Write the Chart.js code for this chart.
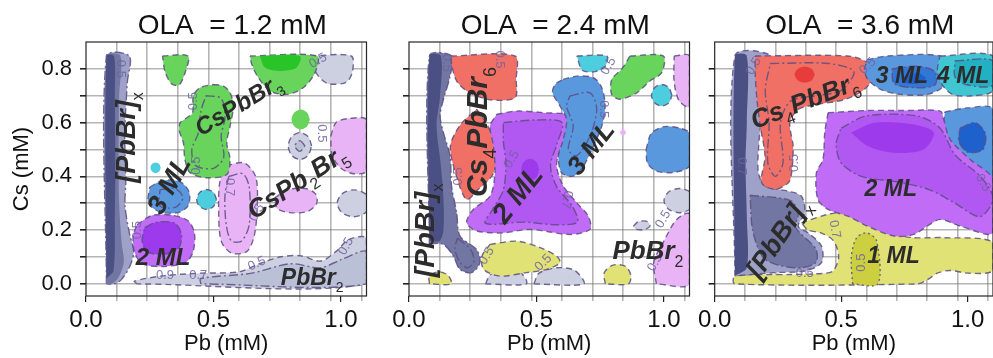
<!DOCTYPE html>
<html>
<head>
<meta charset="utf-8">
<title>Phase maps vs OLA</title>
<script src="https://cdn.jsdelivr.net/npm/chart.js@4.4.1/dist/chart.umd.min.js"></script>
<style>
  body { margin: 0; width: 993px; height: 358px; overflow: hidden; background: #fff; position: relative; }
  canvas { position: absolute; top: 0; }
</style>
</head>
<body>
<canvas id="ola12" width="372" height="358" style="left:0px"></canvas>
<canvas id="ola24" width="322" height="358" style="left:372px"></canvas>
<canvas id="ola36" width="300" height="358" style="left:694px"></canvas>
<script>
const FONT = "'Liberation Sans', Arial, sans-serif";

// axes: labelled Pb ticks, Pb sampling grid, Cs ticks
const pbTicks = [0, 0.5, 1.0];
const pbSamples = [0.12, 0.24, 0.36, 0.48, 0.6, 0.72, 0.84, 0.96, 1.08];
const csTicks = [0, 0.1, 0.2, 0.3, 0.4, 0.5, 0.6, 0.7, 0.8];
const csLabelled = [0, 0.2, 0.4, 0.6, 0.8];

// ---- OLA = 1.2 mM : contour outlines, [Pb, Cs] ----
const ola12PbBrxPale = [[0.08,0.0],[0.08,0.848],[0.17,0.848],[0.162,0.75],[0.152,0.56],[0.156,0.38],[0.153,0.29],[0.17,0.19],[0.187,0.12],[0.172,0.066],[0.138,0.015],[0.11,0.0]];
const ola12PbBrxMid = [[0.08,0.0],[0.08,0.848],[0.135,0.848],[0.13,0.70],[0.128,0.50],[0.13,0.30],[0.14,0.15],[0.148,0.08],[0.125,0.02],[0.10,0.0]];
const ola12PbBrxCore = [[0.08,0.02],[0.08,0.848],[0.11,0.848],[0.113,0.70],[0.115,0.45],[0.113,0.25],[0.108,0.05]];
const ola12PbBr2Band = [[0.20,0.0],[0.19,0.01],[0.30,0.03],[0.45,0.04],[0.60,0.045],[0.68,0.075],[0.76,0.10],[0.84,0.105],[0.92,0.085],[0.98,0.12],[1.03,0.165],[1.10,0.17],[1.10,0.0]];
const ola12PbBr2Core = [[0.45,0.0],[0.45,0.02],[0.65,0.04],[0.80,0.075],[0.92,0.06],[1.0,0.09],[1.10,0.12],[1.10,0.0]];
const ola12GreyCorner = [[0.88,0.848],[1.04,0.848],[1.045,0.79],[1.02,0.75],[0.95,0.745],[0.91,0.775],[0.885,0.82]];
const ola12GreyRing = [[0.885,0.513],[0.871,0.548],[0.839,0.563],[0.807,0.548],[0.793,0.513],[0.807,0.478],[0.839,0.463],[0.871,0.478]];
const ola12GreyRingCore = [[0.859,0.513],[0.839,0.533],[0.819,0.513],[0.839,0.493]];
const ola12GreyEdge = [[1.115,0.30],[1.096,0.335],[1.05,0.35],[1.004,0.335],[0.985,0.30],[1.004,0.265],[1.05,0.25],[1.096,0.265]];
const ola12LilacTall = [[0.55,0.44],[0.62,0.45],[0.665,0.40],[0.672,0.30],[0.66,0.18],[0.63,0.12],[0.57,0.115],[0.53,0.16],[0.52,0.28],[0.525,0.38]];
const ola12LilacTallCore = [[0.56,0.40],[0.615,0.41],[0.64,0.36],[0.64,0.22],[0.61,0.16],[0.57,0.16],[0.55,0.22],[0.545,0.33]];
const ola12LilacFlat = [[0.74,0.32],[0.79,0.35],[0.86,0.355],[0.90,0.335],[0.905,0.30],[0.87,0.27],[0.80,0.265],[0.75,0.28]];
const ola12LilacEdge = [[0.96,0.55],[0.98,0.60],[1.03,0.615],[1.10,0.61],[1.10,0.42],[1.05,0.41],[1.0,0.43],[0.965,0.48]];
const ola12GreenCap = [[0.30,0.848],[0.40,0.848],[0.39,0.79],[0.365,0.74],[0.335,0.745],[0.31,0.79]];
const ola12GreenBody = [[0.499,0.742],[0.539,0.736],[0.565,0.711],[0.578,0.662],[0.565,0.587],[0.552,0.525],[0.565,0.463],[0.552,0.407],[0.473,0.395],[0.408,0.414],[0.388,0.463],[0.382,0.525],[0.366,0.569],[0.369,0.599],[0.395,0.618],[0.418,0.636],[0.421,0.70],[0.447,0.73]];
const ola12GreenBodyCore = [[0.47,0.70],[0.53,0.69],[0.545,0.62],[0.53,0.55],[0.54,0.47],[0.50,0.43],[0.43,0.44],[0.415,0.50],[0.44,0.56],[0.45,0.64]];
const ola12GreenTop = [[0.643,0.848],[0.905,0.848],[0.898,0.786],[0.852,0.73],[0.787,0.705],[0.722,0.718],[0.676,0.767],[0.65,0.817]];
const ola12GreenTopCore = [[0.682,0.848],[0.839,0.848],[0.826,0.805],[0.761,0.792],[0.702,0.805]];
const ola12GreenDot = [[0.878,0.612],[0.867,0.638],[0.842,0.649],[0.817,0.638],[0.806,0.612],[0.817,0.586],[0.842,0.575],[0.867,0.586]];
const ola12Ml2 = [[0.20,0.22],[0.26,0.255],[0.34,0.255],[0.40,0.235],[0.425,0.19],[0.42,0.12],[0.39,0.08],[0.30,0.065],[0.22,0.075],[0.19,0.12],[0.185,0.18]];
const ola12Ml2Core = [[0.23,0.21],[0.28,0.23],[0.35,0.225],[0.375,0.18],[0.36,0.13],[0.30,0.11],[0.24,0.12],[0.22,0.16]];
const ola12Ml3 = [[0.25,0.36],[0.30,0.385],[0.37,0.38],[0.405,0.34],[0.40,0.29],[0.36,0.265],[0.29,0.268],[0.245,0.30]];
const ola12Ml3Core = [[0.29,0.35],[0.35,0.355],[0.38,0.32],[0.35,0.285],[0.29,0.29]];
const ola12CyanSpeck = [[0.293,0.432],[0.287,0.446],[0.273,0.452],[0.259,0.446],[0.253,0.432],[0.259,0.418],[0.273,0.412],[0.287,0.418]];
const ola12CyanDot = [[0.512,0.314],[0.500,0.340],[0.473,0.351],[0.446,0.340],[0.434,0.314],[0.446,0.288],[0.473,0.277],[0.500,0.288]];

// ---- OLA = 2.4 mM ----
const ola24PbBrxPale = [[0.08,0.15],[0.08,0.848],[0.167,0.848],[0.161,0.773],[0.135,0.686],[0.122,0.624],[0.135,0.563],[0.161,0.476],[0.167,0.364],[0.187,0.265],[0.20,0.178],[0.265,0.128],[0.278,0.079],[0.246,0.042],[0.20,0.054],[0.174,0.103],[0.135,0.147]];
const ola24PbBrxLump = [[0.19,0.17],[0.24,0.13],[0.255,0.085],[0.23,0.06],[0.20,0.08],[0.18,0.13]];
const ola24PbBrxCore = [[0.08,0.16],[0.08,0.848],[0.125,0.848],[0.122,0.70],[0.108,0.59],[0.125,0.44],[0.135,0.32],[0.135,0.20],[0.12,0.16]];
const ola24Cs4Top = [[0.165,0.848],[0.415,0.848],[0.42,0.76],[0.416,0.693],[0.32,0.685],[0.24,0.71],[0.19,0.75],[0.168,0.81]];
const ola24Cs4Diamond = [[0.265,0.65],[0.31,0.585],[0.345,0.50],[0.33,0.41],[0.27,0.35],[0.226,0.314],[0.19,0.39],[0.162,0.51],[0.20,0.59]];
const ola24Ml2 = [[0.344,0.631],[0.422,0.643],[0.527,0.637],[0.631,0.625],[0.625,0.562],[0.592,0.5],[0.579,0.438],[0.605,0.364],[0.658,0.302],[0.703,0.252],[0.71,0.203],[0.631,0.184],[0.475,0.203],[0.37,0.19],[0.265,0.197],[0.226,0.228],[0.252,0.277],[0.318,0.327],[0.337,0.413],[0.331,0.513],[0.318,0.587]];
const ola24Ml2Inner = [[0.37,0.60],[0.50,0.61],[0.60,0.60],[0.58,0.52],[0.555,0.44],[0.58,0.36],[0.64,0.29],[0.66,0.23],[0.58,0.22],[0.45,0.23],[0.30,0.225],[0.33,0.28],[0.37,0.35],[0.38,0.45],[0.37,0.53]];
const ola24Ml2Core = [[0.51,0.426],[0.50,0.454],[0.475,0.466],[0.45,0.454],[0.44,0.426],[0.45,0.398],[0.475,0.386],[0.50,0.398]];
const ola24Ml1 = [[0.318,0.147],[0.422,0.159],[0.514,0.135],[0.579,0.103],[0.592,0.079],[0.54,0.054],[0.46,0.042],[0.357,0.029],[0.293,0.054],[0.286,0.103]];
const ola24Ml1Corner = [[0.08,0.0],[0.08,0.03],[0.12,0.045],[0.155,0.03],[0.165,0.0]];
const ola24Ml1Spot = [[0.77,0.0],[0.765,0.04],[0.80,0.07],[0.85,0.065],[0.87,0.03],[0.86,0.0]];
const ola24GreyLeft = [[0.30,0.0],[0.32,0.035],[0.38,0.05],[0.44,0.04],[0.46,0.0]];
const ola24GreyRight = [[0.49,0.0],[0.51,0.04],[0.58,0.06],[0.65,0.05],[0.685,0.0]];
const ola24GreySpeck = [[0.88,0.215],[0.90,0.232],[0.935,0.232],[0.945,0.215],[0.925,0.203],[0.89,0.203]];
const ola24LilacCorner = [[0.97,0.0],[0.96,0.08],[1.0,0.16],[1.05,0.24],[1.10,0.26],[1.10,0.0]];
const ola24GreyEdge = [[1.12,0.31],[1.102,0.342],[1.06,0.355],[1.018,0.342],[1.0,0.31],[1.018,0.278],[1.06,0.265],[1.102,0.278]];
const ola24LilacTop = [[1.04,0.848],[1.10,0.848],[1.10,0.66],[1.06,0.68],[1.04,0.75]];
const ola24LilacSpeck = [[0.852,0.563],[0.84,0.576],[0.828,0.563],[0.84,0.55]];
const ola24Ml3 = [[0.605,0.761],[0.658,0.773],[0.723,0.767],[0.756,0.73],[0.769,0.662],[0.756,0.587],[0.723,0.513],[0.684,0.438],[0.644,0.401],[0.599,0.413],[0.586,0.475],[0.605,0.537],[0.618,0.612],[0.592,0.662],[0.563,0.711],[0.573,0.742]];
const ola24Ml3Core = [[0.631,0.699],[0.71,0.711],[0.736,0.65],[0.71,0.551],[0.658,0.477],[0.625,0.5],[0.644,0.587],[0.618,0.662]];
const ola24CyanTop = [[0.658,0.848],[0.775,0.848],[0.77,0.81],[0.73,0.79],[0.68,0.795]];
const ola24CyanDot = [[1.031,0.702],[1.019,0.730],[0.991,0.742],[0.963,0.730],[0.951,0.702],[0.963,0.674],[0.991,0.662],[1.019,0.674]];
const ola24Green = [[0.867,0.848],[0.997,0.848],[0.991,0.786],[0.945,0.755],[0.893,0.711],[0.827,0.687],[0.795,0.705],[0.795,0.761],[0.834,0.799]];
const ola24BlueEdge = [[0.93,0.50],[0.95,0.56],[1.0,0.585],[1.06,0.58],[1.10,0.56],[1.10,0.44],[1.04,0.415],[0.97,0.42],[0.935,0.45]];

// ---- OLA = 3.6 mM ----
const ola36PbBrxPale = [[0.08,0.03],[0.08,0.848],[0.225,0.848],[0.212,0.749],[0.186,0.624],[0.173,0.5],[0.173,0.413],[0.199,0.364],[0.291,0.345],[0.343,0.326],[0.356,0.265],[0.33,0.215],[0.369,0.19],[0.422,0.141],[0.422,0.079],[0.356,0.048],[0.239,0.042]];
const ola36PbBrxLump = [[0.14,0.33],[0.30,0.31],[0.33,0.26],[0.32,0.21],[0.40,0.13],[0.40,0.08],[0.34,0.06],[0.25,0.07],[0.19,0.10],[0.15,0.2]];
const ola36PbBrxCore = [[0.08,0.03],[0.08,0.848],[0.127,0.848],[0.127,0.60],[0.122,0.45],[0.127,0.25],[0.127,0.06]];
const ola36Ml1 = [[0.343,0.227],[0.448,0.259],[0.526,0.265],[0.605,0.227],[0.683,0.19],[0.788,0.172],[0.905,0.172],[1.10,0.155],[1.10,0.05],[1.0,0.04],[0.93,0.05],[0.88,0.04],[0.84,0.015],[0.80,0.0],[0.08,0.0],[0.08,0.03],[0.30,0.035],[0.44,0.04],[0.47,0.05],[0.49,0.10],[0.47,0.16],[0.42,0.19],[0.37,0.20]];
const ola36Ml1Core = [[0.545,0.0],[0.54,0.10],[0.56,0.17],[0.60,0.19],[0.64,0.16],[0.645,0.0]];
const ola36Cs4 = [[0.16,0.848],[0.526,0.848],[0.605,0.823],[0.631,0.779],[0.592,0.724],[0.513,0.686],[0.408,0.668],[0.33,0.649],[0.297,0.6],[0.31,0.513],[0.304,0.413],[0.291,0.376],[0.239,0.352],[0.186,0.376],[0.199,0.475],[0.18,0.587],[0.167,0.686],[0.16,0.786]];
const ola36Cs4Inner = [[0.22,0.82],[0.45,0.82],[0.55,0.79],[0.50,0.72],[0.40,0.70],[0.30,0.68],[0.26,0.60],[0.27,0.45],[0.24,0.40],[0.21,0.45],[0.215,0.60],[0.20,0.72]];
const ola36Cs4Core = [[0.396,0.779],[0.384,0.8],[0.356,0.809],[0.328,0.8],[0.316,0.779],[0.328,0.758],[0.356,0.749],[0.384,0.758]];
const ola36Ml3 = [[0.605,0.835],[0.683,0.848],[0.892,0.848],[0.925,0.798],[0.905,0.736],[0.84,0.705],[0.735,0.705],[0.657,0.723],[0.605,0.761],[0.592,0.798]];
const ola36Ml3Inner = [[0.70,0.80],[0.80,0.81],[0.87,0.79],[0.87,0.74],[0.79,0.73],[0.71,0.745]];
const ola36Ml3Core = [[0.74,0.77],[0.80,0.785],[0.835,0.765],[0.80,0.745],[0.745,0.75]];
const ola36Ml4 = [[0.89,0.848],[1.10,0.848],[1.10,0.72],[1.02,0.70],[0.94,0.705],[0.90,0.74],[0.88,0.79]];
const ola36Ml4Core = [[0.95,0.83],[1.10,0.83],[1.10,0.74],[1.0,0.74],[0.95,0.77]];
const ola36BlueSide = [[0.91,0.64],[1.0,0.655],[1.10,0.65],[1.10,0.40],[1.04,0.40],[0.97,0.44],[0.925,0.52],[0.905,0.59]];
const ola36BlueSideCore = [[0.97,0.58],[1.03,0.60],[1.07,0.56],[1.06,0.50],[1.0,0.49],[0.965,0.53]];
const ola36Ml2 = [[0.448,0.637],[0.60,0.645],[0.75,0.645],[0.892,0.643],[0.905,0.612],[0.931,0.537],[1.01,0.463],[1.10,0.389],[1.10,0.19],[0.971,0.215],[0.892,0.24],[0.84,0.215],[0.787,0.184],[0.709,0.178],[0.604,0.215],[0.526,0.252],[0.448,0.277],[0.408,0.314],[0.402,0.413],[0.428,0.463],[0.435,0.563]];
const ola36Ml2Inner = [[0.50,0.58],[0.60,0.625],[0.80,0.625],[0.89,0.58],[0.95,0.48],[1.05,0.40],[1.10,0.32],[1.05,0.25],[0.95,0.30],[0.85,0.35],[0.72,0.38],[0.58,0.40],[0.50,0.45],[0.48,0.52]];
const ola36Ml2Core = [[0.539,0.563],[0.631,0.60],[0.787,0.593],[0.866,0.563],[0.826,0.5],[0.709,0.488],[0.604,0.513]];

// phase names: [text, Pb, Cs, rotation, font px]; "_" marks a subscript character
const ola12Tags = [['[PbBr]_x', 0.153, 0.545, -90, 27], ['CsPbBr_3', 0.595, 0.668, -31, 24], ['3 ML', 0.322, 0.37, -61, 27], ['2 ML', 0.302, 0.102, 0, 24], ['CsPb_2Br_5', 0.826, 0.382, -33, 26], ['PbBr_2', 0.887, 0.028, 0, 23]];
const ola24Tags = [['Cs_4PbBr_6', 0.265, 0.565, -90, 30], ['2 ML', 0.422, 0.335, -52, 28], ['3 ML', 0.71, 0.507, -52, 26], ['[PbBr]_x', 0.06, 0.20, -90, 28], ['PbBr_2', 0.937, 0.128, 0, 26]];
const ola36Tags = [['Cs_4PbBr_6', 0.354, 0.683, -21, 26], ['3 ML', 0.74, 0.778, 0, 23], ['4 ML', 0.982, 0.778, 0, 23], ['2 ML', 0.696, 0.359, 0, 23], ['1 ML', 0.707, 0.11, 0, 23], ['[PbBr]_x', 0.245, 0.173, -56, 27]];

// contour level labels: [text, Pb, Cs, rotation]
const ola12Levels = [['0.5', 0.135, 0.80, 90], ['0.5', 0.42, 0.68, -90], ['0.5', 0.434, 0.44, -90], ['0.7', 0.565, 0.36, 90], ['0.5', 0.67, 0.265, -60], ['0.5', 0.20, 0.20, -90], ['0.5', 0.67, 0.075, -25], ['0.9', 0.31, 0.03, 0], ['0.7', 0.44, 0.032, 0], ['0.5', 1.02, 0.14, -60], ['0.5', 0.925, 0.56, 90], ['0.5', 0.91, 0.83, -30]];
const ola24Levels = [['0.5', 0.148, 0.823, 90], ['0.5', 0.357, 0.835, 90], ['0.5', 0.403, 0.463, -60], ['0.5', 0.193, 0.40, -90], ['0.5', 0.782, 0.81, -60], ['0.5', 0.762, 0.65, 90], ['0.7', 0.618, 0.314, 100], ['0.5', 0.305, 0.104, -60], ['0.5', 0.527, 0.079, -45], ['0.5', 0.965, 0.079, -60], ['0.5', 0.997, 0.24, -60]];
const ola36Levels = [['0.5', 0.154, 0.81, -60], ['0.7', 0.108, 0.438, 90], ['0.5', 0.317, 0.45, -90], ['0.5', 0.605, 0.81, -45], ['0.5', 0.356, 0.04, 0], ['0.7', 0.474, 0.203, 80], ['0.5', 0.578, 0.079, -90], ['0.5', 1.06, 0.376, 60]];

const tint = {
  slateDeep: 'rgb(74,80,132)', slate: 'rgb(114,118,162)', slatePale: 'rgb(158,162,200)',
  grey: 'rgb(204,208,224)', greyDeep: 'rgb(186,192,214)', lilac: 'rgb(232,180,246)',
  green: 'rgb(104,212,92)', greenDeep: 'rgb(40,196,40)',
  purple: 'rgb(192,108,246)', purpleMid: 'rgb(178,88,242)', purpleDeep: 'rgb(156,58,236)',
  blue: 'rgb(90,152,222)', blueDeep: 'rgb(50,118,214)', blueDark: 'rgb(30,96,204)',
  cyan: 'rgb(76,206,222)', teal: 'rgb(64,198,208)', tealDeep: 'rgb(34,176,194)',
  red: 'rgb(240,112,102)', redDeep: 'rgb(232,60,60)',
  yellow: 'rgb(224,226,118)', yellowDeep: 'rgb(204,208,64)'
};

// draw order: first entry lowest
const ola12Layers = [
  [ola12PbBrxPale, tint.slatePale, 'dashdot'], [ola12PbBrxMid, tint.slate, null], [ola12PbBrxCore, tint.slateDeep, null],
  [ola12PbBr2Band, tint.grey, 'dash'], [ola12PbBr2Core, tint.greyDeep, 'dashdot'],
  [ola12GreyCorner, tint.grey, 'dash'], [ola12GreyRing, tint.grey, 'dash'], [ola12GreyRingCore, tint.greyDeep, 'dashdot'], [ola12GreyEdge, tint.grey, 'dash'],
  [ola12LilacTall, tint.lilac, 'dash'], [ola12LilacTallCore, tint.lilac, 'dashdot'], [ola12LilacFlat, tint.lilac, 'dash'], [ola12LilacEdge, tint.lilac, 'dash'],
  [ola12GreenCap, tint.green, 'dash'], [ola12GreenBody, tint.green, 'dash'], [ola12GreenBodyCore, tint.green, 'dashdot'],
  [ola12GreenTop, tint.green, 'dash'], [ola12GreenTopCore, tint.greenDeep, null], [ola12GreenDot, tint.green, null],
  [ola12Ml2, tint.purple, 'dash'], [ola12Ml2Core, tint.purpleDeep, 'dashdot'],
  [ola12Ml3, tint.blue, 'dash'], [ola12Ml3Core, tint.blue, 'dashdot'],
  [ola12CyanSpeck, tint.cyan, null], [ola12CyanDot, tint.cyan, 'dash']
];
const ola24Layers = [
  [ola24PbBrxPale, tint.slate, 'dashdot'], [ola24PbBrxLump, tint.slate, 'dashdot'], [ola24PbBrxCore, tint.slateDeep, null],
  [ola24GreyLeft, tint.grey, 'dash'], [ola24GreyRight, tint.grey, 'dash'], [ola24GreySpeck, tint.grey, 'dash'],
  [ola24LilacCorner, tint.lilac, 'dash'], [ola24GreyEdge, tint.grey, 'dash'], [ola24LilacTop, tint.lilac, 'dash'], [ola24LilacSpeck, tint.lilac, null],
  [ola24Ml1, tint.yellow, 'dash'], [ola24Ml1Corner, tint.yellow, 'dash'], [ola24Ml1Spot, tint.yellow, 'dash'],
  [ola24Cs4Top, tint.red, 'dash'], [ola24Cs4Diamond, tint.red, 'dash'],
  [ola24Ml2, tint.purple, 'dash'], [ola24Ml2Inner, tint.purpleMid, 'dashdot'], [ola24Ml2Core, tint.purpleDeep, null],
  [ola24Ml3, tint.blue, 'dash'], [ola24Ml3Core, tint.blue, 'dashdot'],
  [ola24CyanTop, tint.cyan, 'dash'], [ola24CyanDot, tint.cyan, 'dash'], [ola24Green, tint.green, 'dash'], [ola24BlueEdge, tint.blue, 'dash']
];
const ola36Layers = [
  [ola36Ml1, tint.yellow, 'dash'], [ola36Ml1Core, tint.yellowDeep, 'dot'],
  [ola36PbBrxPale, tint.slatePale, 'dash'], [ola36PbBrxLump, tint.slate, 'dashdot'], [ola36PbBrxCore, tint.slateDeep, null],
  [ola36Cs4, tint.red, 'dash'], [ola36Cs4Inner, tint.red, 'dashdot'], [ola36Cs4Core, tint.redDeep, null],
  [ola36Ml3, tint.blue, 'dash'], [ola36Ml3Inner, tint.blueDeep, 'dashdot'], [ola36Ml3Core, tint.blueDark, null],
  [ola36Ml4, tint.teal, 'dash'], [ola36Ml4Core, tint.tealDeep, 'dashdot'],
  [ola36BlueSide, tint.blue, 'dash'], [ola36BlueSideCore, tint.blueDark, 'dashdot'],
  [ola36Ml2, tint.purple, 'dash'], [ola36Ml2Inner, tint.purpleMid, 'dashdot'], [ola36Ml2Core, tint.purpleDeep, null]
];

const dashes = { dash: [6, 4], dashdot: [9, 3, 2, 3], dot: [2, 3] };

function ring(pts) {
  return pts.concat([pts[0]]).map(([x, y]) => ({ x, y }));
}

function regionSets(layers) {
  return layers.map(([pts, color, edge], i) => ({
    data: ring(pts),
    xAxisID: 'x',
    yAxisID: 'y',
    fill: 'shape',
    backgroundColor: color,
    borderColor: 'rgba(92,78,130,0.85)',
    borderWidth: edge ? 1.4 : 0,
    borderDash: edge ? dashes[edge] : [],
    tension: 0.3,
    pointRadius: 0,
    order: layers.length - i
  }));
}

function textPlugin(title, tags, levels) {
  return {
    id: 'phaseText',
    afterDatasetsDraw(chart) {
      const { ctx, scales: { x, y } } = chart;
      ctx.save();
      ctx.fillStyle = 'rgba(112,98,160,0.85)';
      ctx.font = `13px ${FONT}`;
      ctx.textAlign = 'center';
      ctx.textBaseline = 'middle';
      for (const [t, vx, vy, deg] of levels) {
        ctx.save();
        ctx.translate(x.getPixelForValue(vx), y.getPixelForValue(vy));
        ctx.rotate(deg * Math.PI / 180);
        ctx.fillText(t, 0, 0);
        ctx.restore();
      }
      ctx.restore();
    },
    afterDraw(chart) {
      const { ctx, chartArea: a, scales: { x, y } } = chart;
      ctx.save();
      ctx.fillStyle = '#2c2c2c';
      ctx.textAlign = 'left';
      ctx.textBaseline = 'alphabetic';
      for (const [text, vx, vy, deg, size] of tags) {
        const parts = text.split(/(_.)/).filter(Boolean)
          .map(p => (p[0] === '_' ? [p.slice(1), true] : [p, false]));
        const big = `italic bold ${size}px ${FONT}`;
        const small = `${Math.round(size * 0.6)}px ${FONT}`;
        let w = 0;
        for (const [p, sub] of parts) { ctx.font = sub ? small : big; w += ctx.measureText(p).width; }
        ctx.save();
        ctx.translate(x.getPixelForValue(vx), y.getPixelForValue(vy));
        ctx.rotate(deg * Math.PI / 180);
        let cx = -w / 2;
        for (const [p, sub] of parts) {
          ctx.font = sub ? small : big;
          ctx.fillText(p, cx, sub ? size * 0.66 : size * 0.36);
          cx += ctx.measureText(p).width;
        }
        ctx.restore();
      }

      // panel title above the axes
      ctx.fillStyle = '#111';
      ctx.font = `28px ${FONT}`;
      ctx.textAlign = 'center';
      ctx.fillText(title, (a.left + a.right) / 2 + 6, 34);

      // axes frame
      ctx.strokeStyle = '#262626';
      ctx.lineWidth = 1.2;
      ctx.strokeRect(a.left, a.top, a.right - a.left, a.bottom - a.top);
      ctx.restore();
    }
  };
}

function phaseMap(id, cfg) {
  const gridColor = 'rgba(120,120,120,0.55)';
  return new Chart(document.getElementById(id), {
    type: 'line',
    data: { datasets: regionSets(cfg.layers) },
    options: {
      responsive: false,
      animation: false,
      events: [],
      layout: { padding: { top: 42, right: cfg.padRight } },
      plugins: { legend: { display: false }, tooltip: { enabled: false } },
      scales: {
        xg: {
          type: 'linear', position: 'bottom', weight: -1, min: 0, max: 1.1, z: 1,
          afterBuildTicks: s => { s.ticks = pbSamples.map(value => ({ value })); },
          ticks: { display: false },
          grid: { color: gridColor, lineWidth: 1.6, tickLength: 5, tickColor: gridColor },
          border: { display: false },
          afterFit: s => { s.height = 0; }
        },
        x: {
          type: 'linear', position: 'bottom', min: 0, max: 1.1,
          afterBuildTicks: s => { s.ticks = pbTicks.map(value => ({ value })); },
          ticks: {
            color: '#111', font: { family: FONT, size: 24 }, padding: 4,
            maxRotation: 0, autoSkip: false, callback: v => v.toFixed(1)
          },
          grid: { drawOnChartArea: false, tickLength: 6, color: '#222', lineWidth: 1.2 },
          border: { display: false },
          title: {
            display: true, text: 'Pb (mM)', color: '#111',
            font: { family: FONT, size: 22 }, padding: { top: 0, bottom: 1 }
          },
          afterFit: s => { s.height = 62; }
        },
        y: {
          type: 'linear', min: -0.045, max: 0.9, z: 1,
          afterBuildTicks: s => { s.ticks = csTicks.map(value => ({ value })); },
          ticks: {
            display: cfg.yLabels, color: '#111', font: { family: FONT, size: 22 }, padding: 8,
            autoSkip: false, callback: v => (csLabelled.includes(v) ? v.toFixed(1) : '')
          },
          grid: { color: gridColor, lineWidth: 1.6, tickLength: 6, tickColor: '#222' },
          border: { display: false },
          title: {
            display: cfg.yLabels, text: 'Cs (mM)', color: '#111',
            font: { family: FONT, size: 22 }, padding: { top: 9, bottom: 0 }
          },
          afterFit: s => { s.width = cfg.axisWidth; }
        }
      }
    },
    plugins: [textPlugin(cfg.title, cfg.tags, cfg.levels)]
  });
}

phaseMap('ola12', { title: 'OLA  = 1.2 mM', layers: ola12Layers, tags: ola12Tags, levels: ola12Levels, axisWidth: 86, padRight: 5.5, yLabels: true });
phaseMap('ola24', { title: 'OLA  = 2.4 mM', layers: ola24Layers, tags: ola24Tags, levels: ola24Levels, axisWidth: 37, padRight: 4.5, yLabels: false });
phaseMap('ola36', { title: 'OLA  = 3.6 mM', layers: ola36Layers, tags: ola36Tags, levels: ola36Levels, axisWidth: 18.5, padRight: 1, yLabels: false });
</script>
</body>
</html>
